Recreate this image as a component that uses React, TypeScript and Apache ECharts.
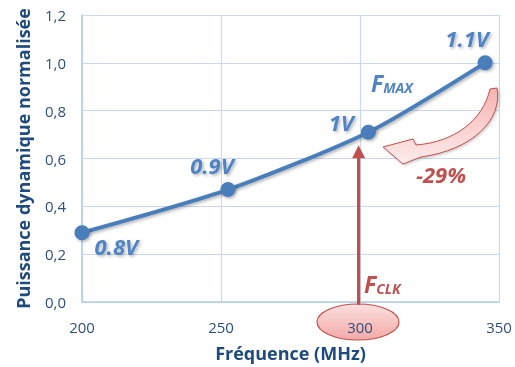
import React, { useEffect, useRef } from "react";
import * as echarts from "echarts";

const freqs = [200, 252.5, 303, 345];
const power = [0.29, 0.47, 0.71, 1.0];
const voltages = ["0.8V", "0.9V", "1V", "1.1V"];
const xTicks = { min: 200, max: 350, interval: 50 };
const yTicks = { min: 0, max: 1.2, interval: 0.2 };
const fclk = 299.5;
const arrowTop = 0.655;
const arrowBottom = -0.012;

const BLUE = "#4A7EBB";
const LABEL_BLUE = "#5084C4";
const RED = "#C0504D";
const AXIS_TXT = "#2F4F80";
const GRID = "#C9DAF0";
const FONT = "'Open Sans', 'Noto Sans', sans-serif";

const labelPlace: any[] = [
  { position: "right", offset: [0, 13] },
  { position: "top", offset: [-16, -1] },
  { position: "left", offset: [-2, -10] },
  { position: "top", offset: [-18, -1] },
];

const arrowPath =
  "M 490 89 L 497 88 C 503 120 472 150 421 157 L 403 164 L 383 147 L 413 139 L 416 145 C 455 142 483 120 490 89 Z";

export default function App() {
  const ref = useRef<HTMLDivElement>(null);
  useEffect(() => {
    if (!ref.current) return;
    try {
      echarts.graphic.registerShape("curvedArrow", echarts.graphic.extendPath(arrowPath, {}) as any);
    } catch (e) {}
    const chart = echarts.init(ref.current, undefined, { renderer: "svg" });
    const labelStyle = {
      color: LABEL_BLUE,
      fontFamily: FONT,
      fontWeight: "bold",
      fontStyle: "italic",
      fontSize: 22,
      textShadowColor: "rgba(0,0,0,0.3)",
      textShadowBlur: 3,
      textShadowOffsetX: 1.5,
      textShadowOffsetY: 1.5,
    };
    const sub = (color: string) => ({
      f: { fill: color, color, fontFamily: FONT, fontWeight: "bold", fontStyle: "italic", fontSize: 23, verticalAlign: "bottom", lineHeight: 24 },
      s: { fill: color, color, fontFamily: FONT, fontWeight: "bold", fontStyle: "italic", fontSize: 14, verticalAlign: "bottom", lineHeight: 14, padding: [9, 0, 0, 0] },
    });
    const baseGraphic: any[] = [
      {
        type: "ellipse",
        z: -5,
        shape: { cx: 358, cy: 322, rx: 41, ry: 18 },
        style: {
          fill: new echarts.graphic.LinearGradient(0, 0, 0, 1, [
            { offset: 0, color: "#FBE0DF" },
            { offset: 1, color: "#F2A9A7" },
          ]),
          stroke: RED,
          lineWidth: 1.2,
        },
      },
      {
        type: "curvedArrow",
        x: 0,
        y: 0,
        z: 5,
        style: {
          fill: new echarts.graphic.LinearGradient(0, 0, 0, 1, [
            { offset: 0, color: "#F6B3B1" },
            { offset: 1, color: "#FDECEC" },
          ]),
          stroke: RED,
          lineWidth: 1,
          shadowColor: "rgba(0,0,0,0.25)",
          shadowBlur: 3,
          shadowOffsetX: 1,
          shadowOffsetY: 1,
        },
      },
      {
        type: "text",
        x: 441,
        y: 174,
        style: {
          text: "-29%",
          fill: RED,
          font: `italic bold 22px ${FONT}`,
          align: "center",
          verticalAlign: "middle",
        },
      },
      {
        type: "text",
        x: 371,
        y: 70,
        style: { text: "{f|F}{s|MAX}", rich: sub(LABEL_BLUE) },
      },
      {
        type: "text",
        x: 364,
        y: 271,
        style: { text: "{f|F}{s|CLK}", rich: sub(RED) },
      },
    ];
    chart.setOption({
      animation: false,
      grid: { left: 82, right: 16, top: 15, bottom: 65 },
      xAxis: {
        type: "value",
        min: xTicks.min,
        max: xTicks.max,
        interval: xTicks.interval,
        name: "Fréquence (MHz)",
        nameLocation: "middle",
        nameGap: 42,
        nameTextStyle: { color: "#1F4A7D", fontFamily: FONT, fontWeight: "bold", fontSize: 18 },
        axisLine: { lineStyle: { color: "#B4CBE8", width: 1.5 } },
        axisTick: { show: false },
        splitLine: { lineStyle: { color: GRID, width: 1.2 } },
        axisLabel: { color: AXIS_TXT, fontFamily: FONT, fontSize: 15, margin: 17 },
      },
      yAxis: {
        type: "value",
        min: yTicks.min,
        max: yTicks.max,
        interval: yTicks.interval,
        name: "Puissance dynamique normalisée",
        nameLocation: "middle",
        nameGap: 50,
        nameTextStyle: { color: "#1F4A7D", fontFamily: FONT, fontWeight: "bold", fontSize: 18 },
        axisLine: { show: true, lineStyle: { color: "#B4CBE8", width: 1.5 } },
        axisTick: { show: false },
        splitLine: { lineStyle: { color: GRID, width: 1.2 } },
        axisLabel: {
          color: AXIS_TXT,
          fontFamily: FONT,
          fontSize: 15,
          margin: 16,
          formatter: (v: number) => v.toFixed(1).replace(".", ","),
        },
      },
      graphic: baseGraphic,
      series: [
        {
          type: "line",
          smooth: 0.25,
          clip: false,
          symbol: "circle",
          symbolSize: 15,
          lineStyle: {
            color: BLUE,
            width: 4,
            shadowColor: "rgba(0,0,0,0.3)",
            shadowBlur: 3,
            shadowOffsetX: 1.5,
            shadowOffsetY: 1.5,
          },
          itemStyle: {
            color: BLUE,
            shadowColor: "rgba(0,0,0,0.3)",
            shadowBlur: 3,
            shadowOffsetX: 1.5,
            shadowOffsetY: 1.5,
          },
          data: freqs.map((f, i) => ({
            value: [f, power[i]],
            label: {
              show: true,
              formatter: voltages[i],
              position: labelPlace[i].position,
              offset: labelPlace[i].offset,
              ...labelStyle,
            },
          })),
        },
      ],
    });
    const top = chart.convertToPixel({ gridIndex: 0 }, [fclk, arrowTop]) as number[];
    const bot = chart.convertToPixel({ gridIndex: 0 }, [fclk, arrowBottom]) as number[];
    if (top && bot) {
      const hw = 6.5;
      const hh = 13;
      chart.setOption({
        graphic: [
          ...baseGraphic,
          {
            type: "line",
            z: 4,
            shape: { x1: bot[0], y1: bot[1], x2: top[0], y2: top[1] + hh - 2 },
            style: { stroke: RED, lineWidth: 3.2 },
          },
          {
            type: "polygon",
            z: 4,
            shape: {
              points: [
                [top[0], top[1]],
                [top[0] - hw, top[1] + hh],
                [top[0] + hw, top[1] + hh],
              ],
            },
            style: { fill: RED },
          },
        ],
      });
    }
    return () => chart.dispose();
  }, []);
  return (
    <div
      ref={ref}
      style={{ width: 515, height: 367, position: "fixed", left: 0, top: 0 }}
    />
  );
}
